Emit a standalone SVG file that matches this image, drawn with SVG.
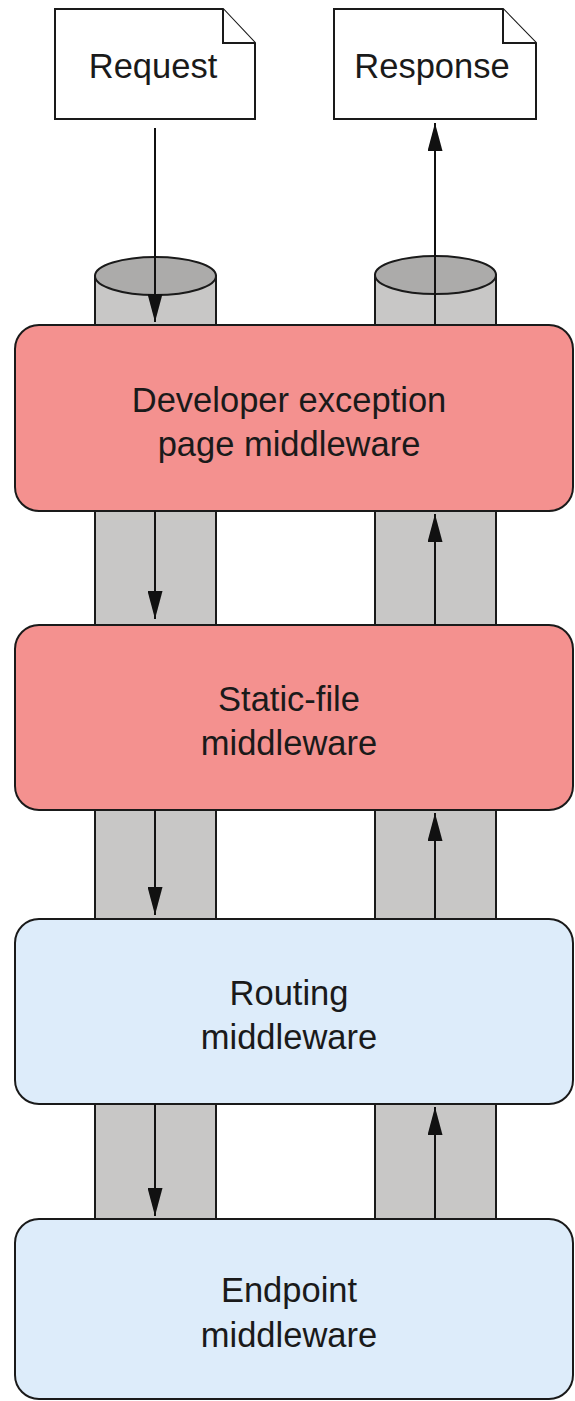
<svg xmlns="http://www.w3.org/2000/svg" width="575" height="1401" viewBox="0 0 575 1401">
  <style>
    .doc { fill: #ffffff; stroke: #1a1a1a; stroke-width: 2; stroke-linejoin: miter; }
    .pipe { fill: #c8c7c6; stroke: #1a1a1a; stroke-width: 2; }
    .cap { fill: #acabaa; stroke: #1a1a1a; stroke-width: 2; }
    .red { fill: #f4918f; stroke: #1a1a1a; stroke-width: 2; }
    .blue { fill: #ddecfa; stroke: #1a1a1a; stroke-width: 2; }
    .lbl { font-family: "Liberation Sans", Arial, sans-serif; font-size: 34.5px; fill: #1a1a1a; text-anchor: middle; }
    .flow { stroke: #111111; stroke-width: 2; fill: none; marker-end: url(#ah); }
  </style>
  <defs>
    <marker id="ah" viewBox="0 0 28 15" refX="28" refY="7.5" markerWidth="28" markerHeight="15" markerUnits="userSpaceOnUse" orient="auto">
      <path d="M0,0 L28,7.5 L0,15 Z" fill="#111111"/>
    </marker>
  </defs>
  <rect width="575" height="1401" fill="#ffffff"/>

  <g id="pipes">
    <rect class="pipe" x="95" y="276" width="121" height="50"/>
    <ellipse class="cap" cx="155.5" cy="276" rx="60.5" ry="19"/>
    <rect class="pipe" x="375" y="275" width="121" height="51"/>
    <ellipse class="cap" cx="435.5" cy="275" rx="60.5" ry="19"/>
    <rect class="pipe" x="95" y="505" width="121" height="126"/>
    <rect class="pipe" x="375" y="505" width="121" height="126"/>
    <rect class="pipe" x="95" y="804" width="121" height="121"/>
    <rect class="pipe" x="375" y="804" width="121" height="121"/>
    <rect class="pipe" x="95" y="1098" width="121" height="127"/>
    <rect class="pipe" x="375" y="1098" width="121" height="127"/>
  </g>

  <g id="request">
    <path class="doc" d="M55,9 H223 L255,43 V119 H55 Z"/>
    <path class="doc" d="M223,9 V43 H255" fill="none"/>
    <text class="lbl" x="153" y="78">Request</text>
  </g>
  <g id="response">
    <path class="doc" d="M334,9 H503 L536,43 V119 H334 Z"/>
    <path class="doc" d="M503,9 V43 H536" fill="none"/>
    <text class="lbl" x="432" y="78">Response</text>
  </g>

  <g id="dev-exception">
    <rect class="red" x="15" y="325" width="558" height="186" rx="24" ry="24"/>
    <text class="lbl" x="289" y="412">Developer exception</text>
    <text class="lbl" x="289" y="456">page middleware</text>
  </g>
  <g id="static-file">
    <rect class="red" x="15" y="625" width="558" height="185" rx="24" ry="24"/>
    <text class="lbl" x="289" y="711">Static-file</text>
    <text class="lbl" x="289" y="755">middleware</text>
  </g>
  <g id="routing">
    <rect class="blue" x="15" y="919" width="558" height="185" rx="24" ry="24"/>
    <text class="lbl" x="289" y="1005">Routing</text>
    <text class="lbl" x="289" y="1049">middleware</text>
  </g>
  <g id="endpoint">
    <rect class="blue" x="15" y="1219" width="558" height="180" rx="24" ry="24"/>
    <text class="lbl" x="289" y="1302">Endpoint</text>
    <text class="lbl" x="289" y="1347">middleware</text>
  </g>

  <g id="connectors">
    <line class="flow" x1="155" y1="128" x2="155" y2="322"/>
    <line class="flow" x1="435" y1="325" x2="435" y2="123"/>
    <line class="flow" x1="155" y1="511" x2="155" y2="619"/>
    <line class="flow" x1="435" y1="625" x2="435" y2="514"/>
    <line class="flow" x1="155" y1="810" x2="155" y2="915"/>
    <line class="flow" x1="435" y1="919" x2="435" y2="813"/>
    <line class="flow" x1="155" y1="1104" x2="155" y2="1216"/>
    <line class="flow" x1="435" y1="1219" x2="435" y2="1107"/>
  </g>
</svg>
